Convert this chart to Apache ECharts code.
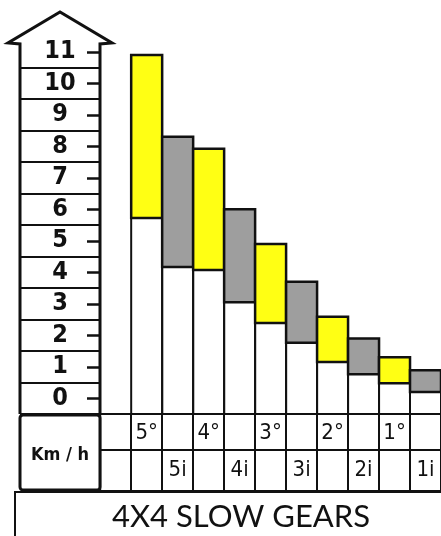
<!DOCTYPE html>
<html>
<head>
<meta charset="utf-8">
<script src="https://cdn.jsdelivr.net/npm/echarts@6/dist/echarts.min.js"></script>
<style>
html,body{margin:0;padding:0;background:#fff;}
#c{width:441px;height:536px;}
</style>
</head>
<body>
<div id="c"></div>
<script>
// ---- data ----
const categories = ['', '5°', '5i', '4°', '4i', '3°', '3i', '2°', '2i', '1°', '1i'];
const gearKind   = ['', 'std', 'int', 'std', 'int', 'std', 'int', 'std', 'int', 'std', 'int'];
const speedLow   = [null, 5.72, 4.17, 4.07, 3.05, 2.39, 1.76, 1.15, 0.76, 0.48, 0.20];
const speedHigh  = [null, 10.9, 8.30, 7.92, 6.00, 4.90, 3.70, 2.59, 1.90, 1.30, 0.89];
const topRowLabels    = categories.map((c, i) => gearKind[i] === 'std' ? c : '');
const bottomRowLabels = categories.map((c, i) => gearKind[i] === 'int' ? c : '');
const unitLabel = 'Km / h';
const titleText = '4X4 SLOW GEARS';

// ---- chart ----
const chart = echarts.init(document.getElementById('c'), null, {renderer: 'canvas'});
const COND = 'DejaVu Sans Condensed, Liberation Sans Narrow, sans-serif';
const colorFor = {std: '#ffff14', int: '#9e9e9e'};

const barData = [];
categories.forEach((c, i) => {
  if (speedLow[i] != null) barData.push([i, speedLow[i], speedHigh[i], gearKind[i] === 'std' ? 0 : 1]);
});

const option = {
  animation: false,
  backgroundColor: '#fff',
  grid: [
    {left: 100.2, width: 345, top: 36, height: 378, show: false},
    {left: 100, width: 1, top: 51.75, height: 346.5, show: false},
    {left: 20, width: 80, top: 67.5, height: 346.5, show: false},
    {left: 100.2, width: 345, top: 414, height: 77, show: true, borderColor: '#111', borderWidth: 2, backgroundColor: 'transparent'}
  ],
  xAxis: [
    {gridIndex: 0, type: 'category', data: categories, show: false},
    {gridIndex: 1, type: 'value', min: 0, max: 1, show: false},
    {gridIndex: 2, type: 'value', min: 0, max: 1, show: false},
    {gridIndex: 3, type: 'category', data: topRowLabels, position: 'top', boundaryGap: true,
      axisLine: {show: false}, axisTick: {show: false},
      splitLine: {show: true, lineStyle: {color: '#111', width: 2}},
      axisLabel: {inside: true, margin: 19, verticalAlign: 'middle', interval: 0,
        fontFamily: COND, fontSize: 22, color: '#111'}},
    {gridIndex: 3, type: 'category', data: bottomRowLabels, position: 'bottom', boundaryGap: true,
      axisLine: {show: false}, axisTick: {show: false}, splitLine: {show: false},
      axisLabel: {inside: true, margin: 21, verticalAlign: 'middle', interval: 0,
        fontFamily: COND, fontSize: 22, color: '#111'}}
  ],
  yAxis: [
    {gridIndex: 0, type: 'value', min: -0.5, max: 11.5, show: false},
    {gridIndex: 1, type: 'value', min: 0, max: 11, interval: 1,
      axisLine: {show: false},
      axisTick: {show: true, length: 13, lineStyle: {color: '#111', width: 2.5}},
      splitLine: {show: false},
      axisLabel: {margin: 40, align: 'center', fontFamily: COND, fontWeight: 'bold', fontSize: 25, color: '#111'}},
    {gridIndex: 2, type: 'value', min: -0.5, max: 10.5, interval: 1,
      axisLine: {show: false}, axisTick: {show: false}, axisLabel: {show: false},
      splitLine: {show: true, lineStyle: {color: '#111', width: 2}}},
    {gridIndex: 3, type: 'value', min: 0, max: 77, interval: 41,
      axisLine: {show: false}, axisTick: {show: false}, axisLabel: {show: false},
      splitLine: {show: true, lineStyle: {color: '#111', width: 2}}}
  ],
  series: [{
    type: 'custom',
    xAxisIndex: 0, yAxisIndex: 0,
    encode: {x: 0, y: [1, 2]},
    clip: false,
    data: barData,
    renderItem: function (params, api) {
      const x = api.value(0), lo = api.value(1), hi = api.value(2), k = api.value(3);
      const pTop = api.coord([x, hi]);
      const pBot = api.coord([x, lo]);
      const w = api.size([1, 0])[0];
      const floorY = params.coordSys.y + params.coordSys.height;
      const xl = pTop[0] - w / 2, xr = pTop[0] + w / 2;
      const fill = k === 0 ? colorFor.std : colorFor.int;
      return {
        type: 'group',
        children: [
          {type: 'line', shape: {x1: xl, y1: pBot[1], x2: xl, y2: floorY}, style: {stroke: '#111', lineWidth: 2}},
          {type: 'line', shape: {x1: xr, y1: pBot[1], x2: xr, y2: floorY}, style: {stroke: '#111', lineWidth: 2}},
          {type: 'rect', shape: {x: xl, y: pTop[1], width: w, height: pBot[1] - pTop[1]},
            style: {fill: fill, stroke: '#111', lineWidth: 2.5, lineJoin: 'miter'}}
        ]
      };
    }
  }],
  graphic: [
    {type: 'polyline', shape: {points: [[20, 414], [20, 44], [8, 43], [60, 12], [112, 43], [100, 44], [100, 414]]},
      style: {stroke: '#111', lineWidth: 3, fill: null, lineJoin: 'miter'}},
    {type: 'rect', shape: {x: 20, y: 415, width: 80, height: 75, r: 3},
      style: {stroke: '#111', lineWidth: 3, fill: '#fff'}},
    {type: 'text', x: 60, y: 455,
      style: {text: unitLabel, font: 'bold 18px ' + COND, fill: '#111', align: 'center', verticalAlign: 'middle'}},
    {type: 'rect', shape: {x: 15, y: 492, width: 440, height: 60},
      style: {stroke: '#111', lineWidth: 2, fill: null}},
    {type: 'text', x: 241, y: 517,
      style: {text: titleText, fontSize: 31, fontFamily: 'Lato, sans-serif', fill: '#111', align: 'center', verticalAlign: 'middle'}}
  ]
};
chart.setOption(option);
</script>
</body>
</html>
